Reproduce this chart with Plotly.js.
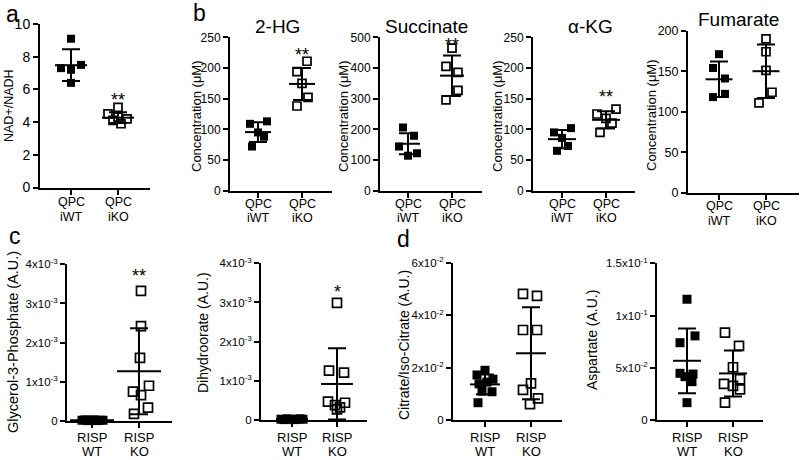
<!DOCTYPE html>
<html><head><meta charset="utf-8">
<script src="https://cdn.plot.ly/plotly-3.0.1.min.js"></script>
<style>html,body{margin:0;padding:0;background:#fff}#chart{width:800px;height:460px}</style>
</head><body><div id="chart"></div>
<script>
// ================= DATA =================
const catQPC = [['QPC', 'iWT'], ['QPC', 'iKO']];
const catRISP = [['RISP', 'WT'], ['RISP', 'KO']];

// a: NAD+/NADH
const nadWT = [9.1, 7.3, 7.2, 7.5, 6.4];
const nadKO = [4.9, 4.5, 4.3, 4.1, 4.2, 3.9];
const nadMean = [7.48, 4.27];
const nadSD = [0.97, 0.33];

// b: 2-HG
const hgWT = [109, 113, 95, 88, 72];
const hgKO = [211, 194, 175, 152, 138];
const hgMean = [95.5, 174];
const hgSD = [16, 26];

// b: Succinate
const succWT = [206, 179, 144, 122, 114];
const succKO = [465, 405, 386, 327, 296];
const succMean = [153, 375];
const succSD = [34, 66];

// b: alpha-KG
const akgWT = [95, 102, 86, 73, 65];
const akgKO = [125, 133, 118, 110, 95];
const akgMean = [84, 115.5];
const akgSD = [15, 14];

// b: Fumarate
const fumWT = [171, 154, 141, 118, 122];
const fumKO = [190, 174, 151, 124, 111];
const fumMean = [140, 150];
const fumSD = [22, 33];

// c: Glycerol-3-Phosphate
const g3pWT = [0.00002, 0.00003, 0.00001, 0.00002, 0.00003, 0.00001, 0.00002, 0.00002];
const g3pKO = [0.00332, 0.00242, 0.00161, 0.00090, 0.00075, 0.00066, 0.00034, 0.00018];
const g3pMean = [0.00002, 0.00127];
const g3pSD = [0.00001, 0.00110];

// c: Dihydroorotate
const dhoWT = [0.00002, 0.00001, 0.00003, 0.00002, 0.00001, 0.00002, 0.00003, 0.00002];
const dhoKO = [0.00299, 0.00126, 0.00121, 0.00047, 0.00044, 0.00038, 0.00032, 0.00027];
const dhoMean = [0.00002, 0.00092];
const dhoSD = [0.00001, 0.00091];

// d: Citrate/Iso-Citrate
const citWT = [0.0190, 0.0172, 0.0156, 0.0138, 0.0145, 0.0108, 0.0110, 0.0066];
const citKO = [0.0482, 0.0474, 0.0344, 0.0344, 0.0140, 0.0115, 0.0083, 0.0061];
const citMean = [0.0136, 0.0255];
const citSD = [0.0038, 0.0176];

// d: Aspartate
const aspWT = [0.1156, 0.0805, 0.0740, 0.0447, 0.0440, 0.0415, 0.0367, 0.0166];
const aspKO = [0.0836, 0.0709, 0.0505, 0.0390, 0.0345, 0.0326, 0.0294, 0.0166];
const aspMean = [0.0567, 0.0446];
const aspSD = [0.031, 0.022];

// tick values / labels
const nadTicks = [0, 2, 4, 6, 8, 10];
const nadTickText = ['0', '2', '4', '6', '8', '10'];
const hgTicks = [0, 50, 100, 150, 200, 250];
const hgTickText = ['0', '50', '100', '150', '200', '250'];
const succTicks = [0, 100, 200, 300, 400, 500];
const succTickText = ['0', '100', '200', '300', '400', '500'];
const fumTicks = [0, 50, 100, 150, 200];
const fumTickText = ['0', '50', '100', '150', '200'];
const milliTicks = [0, 0.001, 0.002, 0.003, 0.004];
const milliTickText = ['0', '1x10<sup>-3</sup>', '2x10<sup>-3</sup>', '3x10<sup>-3</sup>', '4x10<sup>-3</sup>'];
const citTicks = [0, 0.02, 0.04, 0.06];
const citTickText = ['0', '2x10<sup>-2</sup>', '4x10<sup>-2</sup>', '6x10<sup>-2</sup>'];
const aspTicks = [0, 0.05, 0.1, 0.15];
const aspTickText = ['0', '5x10<sup>-2</sup>', '1x10<sup>-1</sup>', '1.5x10<sup>-1</sup>'];

const titles = ['', '2-HG', 'Succinate', 'α-KG', 'Fumarate', '', '', '', ''];
const yLabels = ['NAD+/NADH', 'Concentration (μM)', 'Concentration (μM)', 'Concentration (μM)', 'Concentration (μM)',
  'Glycerol-3-Phosphate (A.U.)', 'Dihydroorate (A.U.)', 'Citrate/Iso-Citrate (A.U.)', 'Aspartate (A.U.)'];
const sigText = ['**', '**', '**', '**', '', '**', '*', '', ''];

// ================= LAYOUT (pixel geometry & styling) =================
const W = 800, H = 460;
const panels = [
  {wt: nadWT, ko: nadKO, mean: nadMean, sd: nadSD, tv: nadTicks, tt: nadTickText, cats: catQPC,
   x0: 40, x1: 150, c0: 71, c1: 118, yT: 24, yB: 187.5,
   jWT: [0, -10, 0, 10, 0], jKO: [0, -10, 0, -5, 9, 3], mw: 32, tf: 14, cf: 12.5, l1: 14.5, l2: 29.5,
   ylx: 9, yly: 106, ylf: 12.5, sigShift: -5},
  {wt: hgWT, ko: hgKO, mean: hgMean, sd: hgSD, tv: hgTicks, tt: hgTickText, cats: catQPC,
   x0: 230, x1: 332, c0: 258, c1: 302, yT: 37.3, yB: 190.7,
   jWT: [-8, 9, 0, 6, -6], jKO: [5, -5, 0, 6, -5], mw: 26, tf: 12, cf: 12.5, l1: 13, l2: 27,
   ylx: 196, yly: 116, ylf: 13, tx: 277, ty: 27, sigShift: -6},
  {wt: succWT, ko: succKO, mean: succMean, sd: succSD, tv: succTicks, tt: succTickText, cats: catQPC,
   x0: 380, x1: 482, c0: 408, c1: 452, yT: 37.3, yB: 190.7,
   jWT: [-5, 6, -9, 9, 0], jKO: [0, -6, 6, 6, -6], mw: 24, tf: 12, cf: 12.5, l1: 13, l2: 27,
   ylx: 343, yly: 116, ylf: 13, tx: 427, ty: 26, sigShift: -9},
  {wt: akgWT, ko: akgKO, mean: akgMean, sd: akgSD, tv: hgTicks, tt: hgTickText, cats: catQPC,
   x0: 533, x1: 635, c0: 562, c1: 606, yT: 37.3, yB: 190.7,
   jWT: [-8, 9, 0, 6, -5], jKO: [-9, 10, 0, 6, -6], mw: 28, tf: 12, cf: 12.5, l1: 13, l2: 27,
   ylx: 497, yly: 116, ylf: 13, tx: 590, ty: 27, sigShift: 0},
  {wt: fumWT, ko: fumKO, mean: fumMean, sd: fumSD, tv: fumTicks, tt: fumTickText, cats: catQPC,
   x0: 688, x1: 799, c0: 719, c1: 766, yT: 30.7, yB: 192.7,
   jWT: [0, -6, 6, -6, 6], jKO: [0, 0, 0, 6, -7], mw: 27, tf: 12.5, cf: 12.5, l1: 13.5, l2: 28,
   ylx: 651, yly: 115, ylf: 13, tx: 738, ty: 20, sigShift: 0},
  {wt: g3pWT, ko: g3pKO, mean: g3pMean, sd: g3pSD, tv: milliTicks, tt: milliTickText, cats: catRISP,
   x0: 67, x1: 172, c0: 92, c1: 139, yT: 264.3, yB: 421,
   jWT: [-10, -7, -4, -1, 2, 5, 8, 11], jKO: [2, 2, 1, 10, -6, 2, 9, -5], mw: 44, tf: 11.5, cf: 13, l1: 16.5, l2: 30.5,
   ylx: 13, yly: 342, ylf: 14.5, sigShift: 3},
  {wt: dhoWT, ko: dhoKO, mean: dhoMean, sd: dhoSD, tv: milliTicks, tt: milliTickText, cats: catRISP,
   x0: 261, x1: 367, c0: 292, c1: 337, yT: 263.3, yB: 420,
   jWT: [-11, -8, -5, -2, 2, 5, 8, 11], jKO: [0, -8, 7, -9, 8, -2, 3, 0], mw: 32, tf: 11.5, cf: 13, l1: 17, l2: 31,
   ylx: 203, yly: 332, ylf: 14, sigShift: -1},
  {wt: citWT, ko: citKO, mean: citMean, sd: citSD, tv: citTicks, tt: citTickText, cats: catRISP,
   x0: 453, x1: 562, c0: 485, c1: 531, yT: 263, yB: 420,
   jWT: [0, -8, 8, -6, 2, 7, -3, -7], jKO: [-8, 6, -8, 6, 0, -8, 7, -1], mw: 30, tf: 11.5, cf: 13, l1: 17, l2: 31,
   ylx: 404, yly: 345, ylf: 14, sigShift: 0},
  {wt: aspWT, ko: aspKO, mean: aspMean, sd: aspSD, tv: aspTicks, tt: aspTickText, cats: catRISP,
   x0: 657, x1: 763, c0: 687, c1: 733, yT: 263.3, yB: 420,
   jWT: [0, 8, -7, -7, 6, -2, 5, 0], jKO: [-8, 6, 0, 7, -9, 0, 7, -8], mw: 28, tf: 11.5, cf: 13, l1: 17, l2: 31,
   ylx: 592, yly: 340, ylf: 14, sigShift: 0}
];

const FONT = 'Liberation Sans, Arial, sans-serif';
const traces = [];
const layout = {
  width: W, height: H, margin: {l: 0, r: 0, t: 0, b: 0},
  paper_bgcolor: 'white', plot_bgcolor: 'rgba(0,0,0,0)',
  showlegend: false, font: {family: FONT, color: 'black'},
  annotations: []
};
const px = x => x / W, py = y => 1 - y / H;

panels.forEach((p, i) => {
  const n = i + 1, sfx = n === 1 ? '' : String(n);
  const unit = p.c1 - p.c0;
  const xr = [-(p.c0 - p.x0) / unit, 1 + (p.x1 - p.c1) / unit];
  const ymax = p.tv[p.tv.length - 1];
  layout['xaxis' + sfx] = {
    domain: [px(p.x0), px(p.x1)], range: xr, anchor: 'y' + sfx,
    showline: true, linecolor: 'black', linewidth: 2, ticks: 'outside', ticklen: 5, tickwidth: 2,
    tickcolor: 'black', tickvals: [0, 1], showticklabels: false,
    showgrid: false, zeroline: false, fixedrange: true
  };
  layout['yaxis' + sfx] = {
    domain: [py(p.yB), py(p.yT)], range: [0, ymax], anchor: 'x' + sfx,
    showline: true, linecolor: 'black', linewidth: 2, ticks: 'outside', ticklen: 5, tickwidth: 2,
    tickcolor: 'black', tickvals: p.tv, ticktext: p.tt, tickfont: {size: p.tf, family: FONT},
    showgrid: false, zeroline: false, fixedrange: true
  };
  const msize = i >= 5 ? 9 : 8;
  traces.push({
    type: 'scatter', mode: 'markers', xaxis: 'x' + sfx, yaxis: 'y' + sfx, cliponaxis: false,
    x: p.wt.map((v, k) => 0 + p.jWT[k] / unit), y: p.wt,
    marker: {symbol: 'square', size: msize, color: 'black', line: {width: 0}}, hoverinfo: 'y'
  });
  traces.push({
    type: 'scatter', mode: 'markers', xaxis: 'x' + sfx, yaxis: 'y' + sfx, cliponaxis: false,
    x: p.ko.map((v, k) => 1 + p.jKO[k] / unit), y: p.ko,
    marker: {symbol: 'square-open', size: msize, color: 'black', line: {color: 'black', width: 1.7}}, hoverinfo: 'y'
  });
  traces.push({
    type: 'scatter', mode: 'markers', xaxis: 'x' + sfx, yaxis: 'y' + sfx, cliponaxis: false,
    x: [0, 1], y: p.mean,
    marker: {symbol: 'line-ew-open', size: p.mw / 1.4, color: 'black', line: {color: 'black', width: 2}},
    error_y: {type: 'data', array: p.sd, visible: true, color: 'black', thickness: 2, width: 9},
    hoverinfo: 'y'
  });
  // category labels (two lines under each tick)
  p.cats.forEach((lines, k) => {
    [p.l1, p.l2].forEach((off, li) => {
      layout.annotations.push({
        xref: 'x' + sfx, yref: 'paper', x: k, y: py(p.yB + off), text: lines[li],
        showarrow: false, xanchor: 'center', yanchor: 'middle', font: {size: p.cf, family: FONT}
      });
    });
  });
  // y label
  layout.annotations.push({
    xref: 'paper', yref: 'paper', x: px(p.ylx), y: py(p.yly), text: yLabels[i], textangle: -90,
    showarrow: false, xanchor: 'center', yanchor: 'middle', font: {size: p.ylf, family: FONT}
  });
  if (titles[i]) {
    layout.annotations.push({
      xref: 'paper', yref: 'paper', x: px(p.tx), y: py(p.ty), text: titles[i],
      showarrow: false, xanchor: 'center', yanchor: 'middle', font: {size: 19, family: FONT}
    });
  }
  if (sigText[i]) {
    layout.annotations.push({
      xref: 'x' + sfx, yref: 'y' + sfx, x: 1, y: Math.max(...p.ko), text: sigText[i],
      showarrow: false, xanchor: 'center', yanchor: 'bottom', yshift: p.sigShift,
      font: {size: 18, family: FONT}
    });
  }
});

// panel letters
[['a', 12, 14], ['b', 199, 13], ['c', 15, 236], ['d', 403, 239]].forEach(([t, x, y]) => {
  layout.annotations.push({xref: 'paper', yref: 'paper', x: px(x), y: py(y), text: t, showarrow: false,
    xanchor: 'center', yanchor: 'middle', font: {size: 23, family: FONT}});
});

Plotly.newPlot('chart', traces, layout, {displayModeBar: false, staticPlot: true});
</script>
</body></html>
